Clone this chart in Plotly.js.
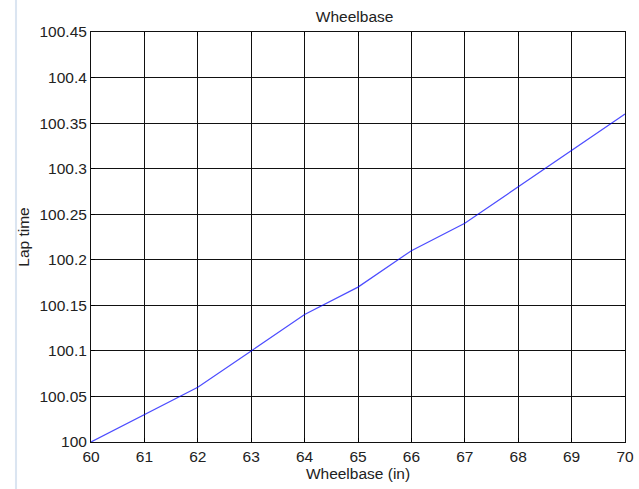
<!DOCTYPE html>
<html>
<head>
<meta charset="utf-8">
<script src="https://cdn.plot.ly/plotly-3.0.1.min.js"></script>
<style>html,body{margin:0;padding:0;background:#fff;}#chart{width:639px;height:489px;}</style>
</head>
<body>
<div id="chart"></div>
<script>
const wheelbase = [60, 61, 62, 63, 64, 65, 66, 67, 68, 69, 70];
const lapTime = [100.0, 100.03, 100.06, 100.10, 100.14, 100.17, 100.21, 100.24, 100.28, 100.32, 100.36];
const xTicks = [60, 61, 62, 63, 64, 65, 66, 67, 68, 69, 70];
const yTicks = [100, 100.05, 100.1, 100.15, 100.2, 100.25, 100.3, 100.35, 100.4, 100.45];
const yTickText = ['100', '100.05', '100.1', '100.15', '100.2', '100.25', '100.3', '100.35', '100.4', '100.45'];

const font = {family: 'Liberation Sans, Arial, sans-serif', size: 15.5, color: '#222'};
Plotly.newPlot('chart', [{
  x: wheelbase, y: lapTime, type: 'scatter', mode: 'lines',
  line: {color: '#0000ff', width: 1.2}, opacity: 0.7
}], {
  width: 639, height: 489,
  margin: {l: 91, r: 14, t: 32, b: 47},
  paper_bgcolor: '#fff', plot_bgcolor: '#fff',
  font: font,
  showlegend: false,
  title: {text: 'Wheelbase', font: font, x: 0.555, xanchor: 'center', y: 0.967, yanchor: 'middle'},
  shapes: [{type: 'rect', xref: 'paper', yref: 'paper', x0: -0.1424, x1: -0.1385, y0: -0.115, y1: 1.08,
            fillcolor: '#dbe5f1', line: {width: 0}, layer: 'below'}],
  xaxis: {
    range: [60, 70], tickvals: xTicks, ticktext: xTicks.map(String),
    showgrid: true, gridcolor: '#111', gridwidth: 1,
    showline: true, linecolor: '#111', linewidth: 1, mirror: 'ticks',
    ticks: 'inside', ticklen: 4, tickcolor: '#000',
    zeroline: false, tickfont: font,
    title: {text: 'Wheelbase (in)', font: font, standoff: 2}
  },
  yaxis: {
    range: [100, 100.45], tickvals: yTicks, ticktext: yTickText,
    showgrid: true, gridcolor: '#111', gridwidth: 1,
    showline: true, linecolor: '#111', linewidth: 1, mirror: 'ticks',
    ticks: 'inside', ticklen: 4, tickcolor: '#000',
    zeroline: false, tickfont: font,
    title: {text: 'Lap time', font: font, standoff: 6}
  }
}, {displayModeBar: false, staticPlot: true});
</script>
</body>
</html>
